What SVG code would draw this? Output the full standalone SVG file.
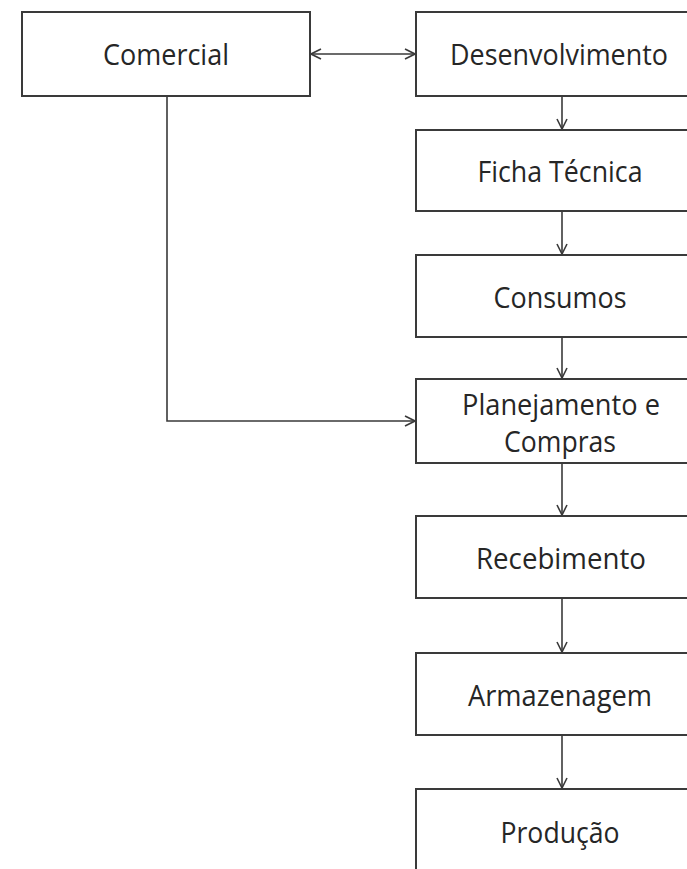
<svg xmlns="http://www.w3.org/2000/svg" width="687" height="869" viewBox="0 0 687 869">
<style>
.box{fill:#fff;stroke:#3a3a3a;stroke-width:2}
.lbl{font-family:"Open Sans","Noto Sans",sans-serif;font-size:29px;fill:#262626;text-anchor:middle}
.con{fill:none;stroke:#3a3a3a;stroke-width:1.6}
</style>
<defs>
<marker id="arr" viewBox="0 0 12 12" refX="11" refY="6" markerWidth="12" markerHeight="12" markerUnits="userSpaceOnUse" orient="auto-start-reverse">
<polyline points="1,1 11,6 1,11" fill="none" stroke="#3a3a3a" stroke-width="1.6"/>
</marker>
</defs>
<rect width="687" height="869" fill="#fff"/>
<g id="connectors">
<line class="con" x1="311" y1="54" x2="415" y2="54" marker-start="url(#arr)" marker-end="url(#arr)"/>
<polyline class="con" points="167,97 167,421 415,421" marker-end="url(#arr)"/>
<line class="con" x1="562" y1="97" x2="562" y2="129" marker-end="url(#arr)"/>
<line class="con" x1="562" y1="212" x2="562" y2="254" marker-end="url(#arr)"/>
<line class="con" x1="562" y1="338" x2="562" y2="378" marker-end="url(#arr)"/>
<line class="con" x1="562" y1="464" x2="562" y2="515" marker-end="url(#arr)"/>
<line class="con" x1="562" y1="599" x2="562" y2="652" marker-end="url(#arr)"/>
<line class="con" x1="562" y1="736" x2="562" y2="788" marker-end="url(#arr)"/>
</g>
<g id="comercial"><rect class="box" x="22" y="12" width="288" height="84"/><text class="lbl" x="166" y="65" textLength="126" lengthAdjust="spacingAndGlyphs">Comercial</text></g>
<g id="desenvolvimento"><rect class="box" x="416" y="12" width="292" height="84"/><text class="lbl" x="559" y="65" textLength="218" lengthAdjust="spacingAndGlyphs">Desenvolvimento</text></g>
<g id="ficha"><rect class="box" x="416" y="130" width="292" height="81"/><text class="lbl" x="560" y="182" textLength="165" lengthAdjust="spacingAndGlyphs">Ficha Técnica</text></g>
<g id="consumos"><rect class="box" x="416" y="255" width="292" height="82"/><text class="lbl" x="560" y="308" textLength="133" lengthAdjust="spacingAndGlyphs">Consumos</text></g>
<g id="planejamento"><rect class="box" x="416" y="379" width="292" height="84"/><text class="lbl" x="561" y="415" textLength="198" lengthAdjust="spacingAndGlyphs">Planejamento e</text><text class="lbl" x="560" y="452" textLength="112" lengthAdjust="spacingAndGlyphs">Compras</text></g>
<g id="recebimento"><rect class="box" x="416" y="516" width="292" height="82"/><text class="lbl" x="561" y="569" textLength="170" lengthAdjust="spacingAndGlyphs">Recebimento</text></g>
<g id="armazenagem"><rect class="box" x="416" y="653" width="292" height="82"/><text class="lbl" x="560" y="706" textLength="184" lengthAdjust="spacingAndGlyphs">Armazenagem</text></g>
<g id="producao"><rect class="box" x="416" y="789" width="292" height="100"/><text class="lbl" x="560" y="843" textLength="119" lengthAdjust="spacingAndGlyphs">Produção</text></g>
</svg>
